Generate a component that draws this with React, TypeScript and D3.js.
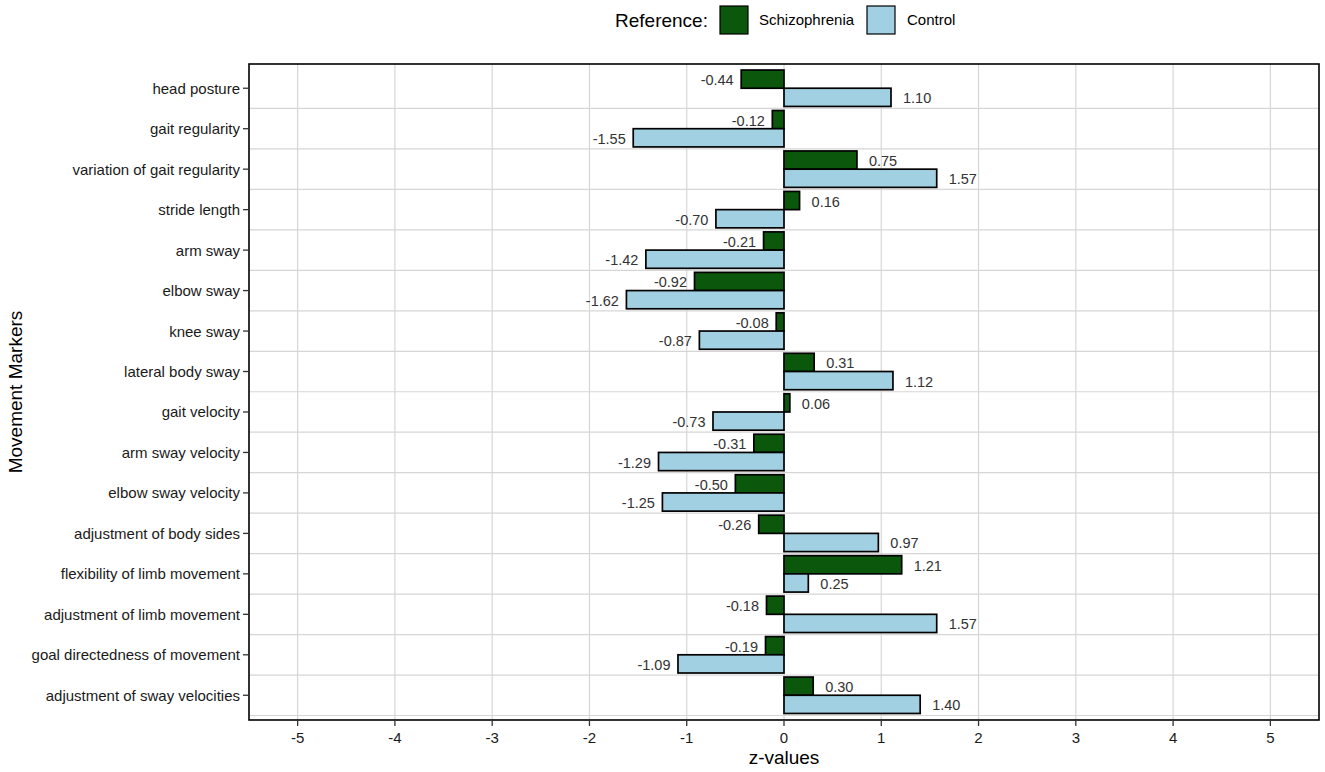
import * as d3 from "d3";
import React from "react";

const markers = [
  "head posture",
  "gait regularity",
  "variation of gait regularity",
  "stride length",
  "arm sway",
  "elbow sway",
  "knee sway",
  "lateral body sway",
  "gait velocity",
  "arm sway velocity",
  "elbow sway velocity",
  "adjustment of body sides",
  "flexibility of limb movement",
  "adjustment of limb movement",
  "goal directedness of movement",
  "adjustment of sway velocities",
];
const schizophrenia = [-0.44, -0.12, 0.75, 0.16, -0.21, -0.92, -0.08, 0.31, 0.06, -0.31, -0.5, -0.26, 1.21, -0.18, -0.19, 0.3];
const control = [1.1, -1.55, 1.57, -0.7, -1.42, -1.62, -0.87, 1.12, -0.73, -1.29, -1.25, 0.97, 0.25, 1.57, -1.09, 1.4];
const groups = ["Schizophrenia", "Control"];
const xTicks = [-5, -4, -3, -2, -1, 0, 1, 2, 3, 4, 5];

const W = 1325;
const H = 772;
const panel = { left: 249, right: 1319, top: 64, bottom: 720 };
const colors: Record<string, string> = { Schizophrenia: "#0B570B", Control: "#A0D0E2" };
const font = "'Liberation Sans', Arial, sans-serif";

export default function App() {
  const x = d3.scaleLinear().domain([-5.5, 5.5]).range([panel.left, panel.right]);
  const y = d3.scaleBand<string>().domain(markers).range([68, 715.5]).paddingInner(0).paddingOuter(0);
  const inner = d3.scaleBand<string>().domain(groups).range([0, y.bandwidth() * 0.9]);
  const offset = (y.bandwidth() - inner.range()[1]) / 2;

  const rows = markers.map((m, i) => ({ m, values: [schizophrenia[i], control[i]] }));

  // plain hyphen like the R output, not the unicode minus
  const fmt = (v: number) => v.toFixed(2);

  return (
    <svg width={W} height={H} style={{ display: "block", position: "absolute", left: 0, top: 0 }} fontFamily={font}>
      <rect width={W} height={H} fill="#fff" />
      {/* legend */}
      <g>
        <text x={615} y={27} fontSize={19} fill="#000">Reference:</text>
        <rect x={720} y={6} width={28} height={28} fill={colors.Schizophrenia} stroke="#000" strokeWidth={1.2} />
        <text x={759} y={25} fontSize={15} fill="#000">Schizophrenia</text>
        <rect x={867} y={6} width={28} height={28} fill={colors.Control} stroke="#000" strokeWidth={1.2} />
        <text x={907} y={25} fontSize={15} fill="#000">Control</text>
      </g>
      {/* grid */}
      <g stroke="#D6D6D6" strokeWidth={1.2}>
        {xTicks.map((t) => (
          <line key={"v" + t} x1={x(t)} x2={x(t)} y1={panel.top} y2={panel.bottom} />
        ))}
        {markers.map((m) => (
          <line key={"h" + m} x1={panel.left} x2={panel.right} y1={(y(m) as number) + y.bandwidth()} y2={(y(m) as number) + y.bandwidth()} />
        ))}
      </g>
      {/* bars */}
      <g>
        {rows.map((r) =>
          r.values.map((v, j) => {
            const g = groups[j];
            const y0 = (y(r.m) as number) + offset + (inner(g) as number);
            const x0 = Math.min(x(0), x(v));
            const w = Math.abs(x(v) - x(0));
            return (
              <rect key={r.m + g} x={x0} y={y0} width={w} height={inner.bandwidth()} fill={colors[g]} stroke="#000" strokeWidth={1.7} />
            );
          })
        )}
      </g>
      {/* value labels */}
      <g fontSize={14.5} fill="#333">
        {rows.map((r) =>
          r.values.map((v, j) => {
            const g = groups[j];
            const yc = (y(r.m) as number) + offset + (inner(g) as number) + inner.bandwidth() / 2;
            const pos = v >= 0;
            return (
              <text key={"l" + r.m + g} x={pos ? x(v) + 12 : x(v) - 7.5} y={yc + 1} dominantBaseline="central" textAnchor={pos ? "start" : "end"}>
                {fmt(v)}
              </text>
            );
          })
        )}
      </g>
      {/* panel border */}
      <rect x={panel.left} y={panel.top} width={panel.right - panel.left} height={panel.bottom - panel.top} fill="none" stroke="#000" strokeWidth={1.6} />
      {/* y axis */}
      <g fontSize={15} fill="#1a1a1a">
        {markers.map((m) => {
          const yc = (y(m) as number) + y.bandwidth() / 2;
          return (
            <g key={"y" + m}>
              <line x1={243} x2={panel.left} y1={yc} y2={yc} stroke="#333" strokeWidth={1.3} />
              <text x={240} y={yc} dominantBaseline="central" textAnchor="end">{m}</text>
            </g>
          );
        })}
      </g>
      {/* x axis */}
      <g fontSize={15} fill="#1a1a1a">
        {xTicks.map((t) => (
          <g key={"x" + t}>
            <line x1={x(t)} x2={x(t)} y1={panel.bottom} y2={panel.bottom + 6} stroke="#333" strokeWidth={1.3} />
            <text x={x(t)} y={737} dominantBaseline="central" textAnchor="middle">{String(t)}</text>
          </g>
        ))}
      </g>
      <text x={x(0)} y={757} fontSize={19} textAnchor="middle" dominantBaseline="central" fill="#000">z-values</text>
      <text transform={`translate(15,${(panel.top + panel.bottom) / 2}) rotate(-90)`} fontSize={19} textAnchor="middle" dominantBaseline="central" fill="#000">
        Movement Markers
      </text>
    </svg>
  );
}
